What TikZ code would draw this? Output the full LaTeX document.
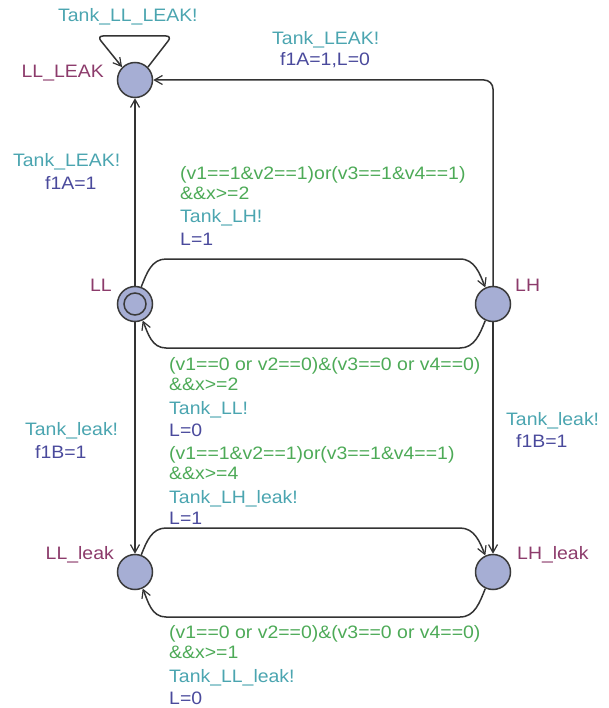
\documentclass[tikz,border=0pt]{standalone}
\usepackage{fontspec}
\setmainfont{Liberation Sans}[FakeStretch=1.08]
\usetikzlibrary{arrows.meta}

\definecolor{locfill}{HTML}{A6AED4}
\definecolor{locline}{HTML}{3A3A3A}
\definecolor{locname}{HTML}{8C3B6B}
\definecolor{synccol}{HTML}{4BA5B0}
\definecolor{guardcol}{HTML}{4DAA57}
\definecolor{updcol}{HTML}{4A4A9C}
\definecolor{edgecol}{HTML}{333333}

\tikzset{
  loc/.style={circle, draw=locline, fill=locfill, line width=1.5pt,
              minimum size=35pt, inner sep=0pt},
  initin/.style={circle, draw=locline, line width=1.5pt,
              minimum size=22pt, inner sep=0pt},
  edge/.style={draw=edgecol, line width=1.5pt,
              -{Straight Barb[length=8pt,width=9pt,line width=1.2pt]}},
  lbl/.style={inner sep=0pt, anchor=base west, font=\fontsize{18}{20}\selectfont},
  locname/.style={lbl, text=locname},
  sync/.style={lbl, text=synccol},
  guard/.style={lbl, text=guardcol},
  upd/.style={lbl, text=updcol},
}

\begin{document}
\begin{tikzpicture}[x=1pt, y=-1pt]
  \useasboundingbox (0,0) rectangle (608,708);

  % locations
  \node[loc] (LLLEAK) at (135,80) {};
  \node[loc] (LL) at (135,304) {};
  \node[initin] (LLinit) at (LL) {};
  \node[loc] (LH) at (493,304) {};
  \node[loc] (LLleak) at (135,572) {};
  \node[loc] (LHleak) at (493,572) {};

  % location names
  \node[locname, anchor=base east] (nLLLEAK) at (104,78) {LL\_LEAK};
  \node[locname, anchor=base east] (nLL) at (112,291) {LL};
  \node[locname] (nLH) at (515,291) {LH};
  \node[locname, anchor=base east] (nLLleak) at (114,559) {LL\_leak};
  \node[locname] (nLHleak) at (517,559) {LH\_leak};

  % bend points of the edges
  \coordinate (loopR) at (172,36);
  \coordinate (loopL) at (97,36);
  \coordinate (upA) at (166,259);
  \coordinate (upB) at (460,259);
  \coordinate (dnA) at (460,348);
  \coordinate (dnB) at (166,348);
  \coordinate (lupA) at (166,528);
  \coordinate (lupB) at (460,528);
  \coordinate (ldnA) at (460,617);
  \coordinate (ldnB) at (166,617);

  % self loop on LL_LEAK
  \draw[edge, rounded corners=6pt] (LLLEAK.45) -- (loopR) -- (loopL) -- (LLLEAK.135);

  % vertical edges
  \draw[edge] (LL.north) -- (LLLEAK.south);
  \draw[edge] (LL.south) -- (LLleak.north);
  \draw[edge] (LH.south) -- (LHleak.north);

  % LH to LL_LEAK
  \draw[edge, rounded corners=9pt] (LH.north) -- (LH.north |- LLLEAK) -- (LLLEAK.east);

  % LL <-> LH
  \draw[edge] (LL.70) to[out=68,in=180] (upA) -- (upB) to[out=0,in=112] (LH.115);
  \draw[edge] (LH.245) to[out=248,in=0] (dnA) -- (dnB) to[out=180,in=292] (LL.295);

  % LL_leak <-> LH_leak
  \draw[edge] (LLleak.70) to[out=68,in=180] (lupA) -- (lupB) to[out=0,in=112] (LHleak.115);
  \draw[edge] (LHleak.245) to[out=248,in=0] (ldnA) -- (ldnB) to[out=180,in=292] (LLleak.295);

  % labels: self loop
  \node[sync] (s1) at (58,22) {Tank\_LL\_LEAK!};

  % labels: LH to LL_LEAK
  \node[sync] (s2) at (272,45) {Tank\_LEAK!};
  \node[upd] (u2) at (280,66) {f1A=1,L=0};

  % labels: LL to LL_LEAK
  \node[sync] (s3) at (13,167) {Tank\_LEAK!};
  \node[upd] (u3) at (45,190) {f1A=1};

  % labels: LL to LH
  \node[guard] (g4a) at (180,180) {(v1==1\&v2==1)or(v3==1\&v4==1)};
  \node[guard] (g4b) at (180,200) {\&\&x>=2};
  \node[sync] (s4) at (180,223) {Tank\_LH!};
  \node[upd] (u4) at (180,245) {L=1};

  % labels: LH to LL
  \node[guard] (g5a) at (169,370) {(v1==0 or v2==0)\&(v3==0 or v4==0)};
  \node[guard] (g5b) at (169,390) {\&\&x>=2};
  \node[sync] (s5) at (169,414) {Tank\_LL!};
  \node[upd] (u5) at (169,436) {L=0};

  % labels: LL_leak to LH_leak
  \node[guard] (g6a) at (169,459) {(v1==1\&v2==1)or(v3==1\&v4==1)};
  \node[guard] (g6b) at (169,479) {\&\&x>=4};
  \node[sync] (s6) at (169,503) {Tank\_LH\_leak!};
  \node[upd] (u6) at (169,524) {L=1};

  % labels: LL to LL_leak
  \node[sync] (s7) at (25,435) {Tank\_leak!};
  \node[upd] (u7) at (35,458) {f1B=1};

  % labels: LH to LH_leak
  \node[sync] (s8) at (506,425) {Tank\_leak!};
  \node[upd] (u8) at (516,447) {f1B=1};

  % labels: LH_leak to LL_leak
  \node[guard] (g9a) at (169,638) {(v1==0 or v2==0)\&(v3==0 or v4==0)};
  \node[guard] (g9b) at (169,658) {\&\&x>=1};
  \node[sync] (s9) at (169,682) {Tank\_LL\_leak!};
  \node[upd] (u9) at (169,704) {L=0};
\end{tikzpicture}
\end{document}
